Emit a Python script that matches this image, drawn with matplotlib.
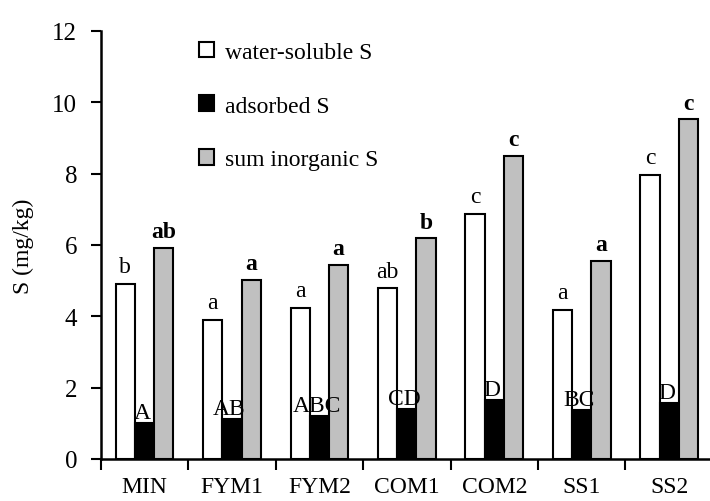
import numpy as np
import matplotlib.pyplot as plt

plt.rcParams['font.family'] = ['Liberation Serif', 'DejaVu Serif']

# data
categories = ['MIN', 'FYM1', 'FYM2', 'COM1', 'COM2', 'SS1', 'SS2']
water_soluble = [4.92, 3.91, 4.23, 4.78, 6.87, 4.19, 7.97]
adsorbed = [1.02, 1.12, 1.21, 1.40, 1.64, 1.36, 1.57]
sum_inorganic = [5.92, 5.02, 5.44, 6.19, 8.50, 5.55, 9.53]
labels_water = ['b', 'a', 'a', 'ab', 'c', 'a', 'c']
labels_adsorbed = ['A', 'AB', 'ABC', 'CD', 'D', 'BC', 'D']
labels_sum = ['ab', 'a', 'a', 'b', 'c', 'a', 'c']

x = np.arange(len(categories))
w = 0.22

fig = plt.figure(figsize=(7.1, 5.02), dpi=100)
ax = fig.add_axes([0.142, 0.0837, 0.862, 0.8526])

ax.bar(x - w, water_soluble, w, color='white', edgecolor='black', linewidth=1.5, label='water-soluble S')
ax.bar(x, adsorbed, w, color='black', edgecolor='black', linewidth=1.5, label='adsorbed S')
ax.bar(x + w, sum_inorganic, w, color='#c0c0c0', edgecolor='black', linewidth=1.5, label='sum inorganic S')

for i in range(len(categories)):
    ax.annotate(labels_water[i], (x[i] - w, water_soluble[i]), xytext=(0, 5),
                textcoords='offset points', ha='center', va='bottom', fontsize=17)
    ax.annotate(labels_adsorbed[i], (x[i] - 0.03, adsorbed[i]), xytext=(0, 0),
                textcoords='offset points', ha='center', va='bottom', fontsize=17)
    ax.annotate(labels_sum[i], (x[i] + w, sum_inorganic[i]), xytext=(0, 4),
                textcoords='offset points', ha='center', va='bottom', fontsize=17,
                fontweight='bold')

ax.set_xlim(-0.5, 6.5)
ax.set_ylim(0, 12)
ax.set_yticks(range(0, 13, 2))
ax.set_xticks(np.arange(-0.5, 6.5, 1.0))
ax.set_xticklabels([])
ax.set_xticks(x, minor=True)
ax.set_xticklabels(categories, minor=True)
ax.tick_params(axis='x', which='major', direction='out', length=8, width=1.5)
ax.tick_params(axis='x', which='minor', length=0, pad=12, labelsize=17)
ax.tick_params(axis='y', direction='out', length=7, width=1.5, labelsize=18, pad=10)

for s in ['top', 'right']:
    ax.spines[s].set_visible(False)
for s in ['left', 'bottom']:
    ax.spines[s].set_linewidth(1.8)

ax.set_ylabel('S (mg/kg)', fontsize=17, labelpad=13)

ax.legend(loc='upper left', bbox_to_anchor=(0.16, 0.975), frameon=False,
          fontsize=17, handlelength=0.65, handleheight=0.65, handletextpad=0.45,
          labelspacing=1.38, borderaxespad=0, borderpad=0)

fig.savefig('out.png', dpi=100)
